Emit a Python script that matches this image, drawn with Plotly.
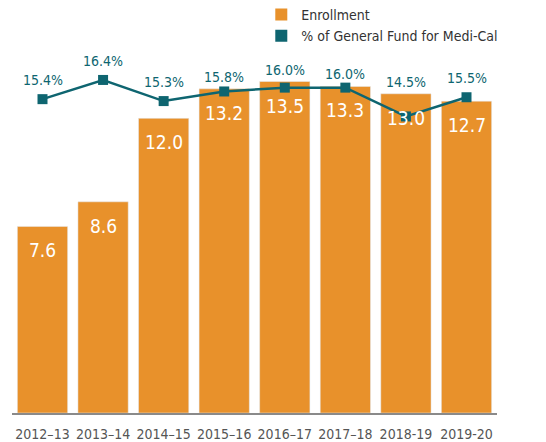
import plotly.graph_objects as go

years = ["2012–13", "2013–14", "2014–15", "2015–16", "2016–17", "2017–18", "2018-19", "2019-20"]
enrollment = [7.6, 8.6, 12.0, 13.2, 13.5, 13.3, 13.0, 12.7]
gf_share = [15.4, 16.4, 15.3, 15.8, 16.0, 16.0, 14.5, 15.5]

ORANGE = "#E8912B"
TEAL = "#0E6570"
FONT = "DejaVu Sans Condensed, Liberation Sans Narrow, sans-serif"

Y1 = [0, 15.19]
Y2 = [-0.94, 18.48]

fig = go.Figure()
fig.add_trace(go.Bar(x=years, y=enrollment, marker_color=ORANGE, showlegend=False,
                     hoverinfo="skip"))
fig.add_trace(go.Scatter(x=years, y=gf_share, yaxis="y2", mode="lines+markers",
                         line=dict(color=TEAL, width=2.5),
                         marker=dict(symbol="square", size=10, color=TEAL),
                         showlegend=False))
# legend entries (square swatches)
fig.add_trace(go.Scatter(x=[None], y=[None], mode="markers", name="Enrollment",
                         marker=dict(symbol="square", size=12, color=ORANGE)))
fig.add_trace(go.Scatter(x=[None], y=[None], mode="markers", name="% of General Fund for Medi-Cal",
                         marker=dict(symbol="square", size=12, color=TEAL)))

annotations = []
for x, v in zip(years, enrollment):
    annotations.append(dict(x=x, y=v, xref="x", yref="y", text=f"{v:.1f}", showarrow=False,
                            yanchor="top", yshift=-11,
                            font=dict(family=FONT, size=19, color="white")))
for x, p, v in zip(years, gf_share, enrollment):
    frac_line = (p - Y2[0]) / (Y2[1] - Y2[0])
    frac_bar = (v - Y1[0]) / (Y1[1] - Y1[0])
    if frac_line < frac_bar:
        # marker sits inside the bar: put the label just above the bar top
        ann = dict(y=v, yref="y", yshift=2)
    else:
        ann = dict(y=p, yref="y2", yshift=9)
    ann.update(x=x, xref="x", text=f"{p:.1f}%", showarrow=False, yanchor="bottom",
               font=dict(family=FONT, size=14, color=TEAL))
    annotations.append(ann)

fig.update_layout(
    width=546, height=442,
    margin=dict(l=4, r=57, t=32, b=37, autoexpand=False),
    paper_bgcolor="white", plot_bgcolor="white",
    bargap=0.17,
    font=dict(family=FONT, color="#555555"),
    xaxis=dict(showline=True, linecolor="#8a8a8a", linewidth=1.5, ticks="", tickangle=0,
               ticklabelstandoff=7,
               tickfont=dict(size=14, color="#555555"), showgrid=False, automargin=False),
    yaxis=dict(range=Y1, visible=False, showgrid=False),
    yaxis2=dict(range=Y2, overlaying="y", visible=False, showgrid=False),
    legend=dict(x=0.514, y=1.11, xanchor="left", yanchor="top", xref="paper", yref="paper",
                font=dict(family=FONT, size=14, color="#333333"),
                itemwidth=30, tracegroupgap=0, bgcolor="rgba(0,0,0,0)"),
    annotations=annotations,
)

fig.write_html("out.html")
